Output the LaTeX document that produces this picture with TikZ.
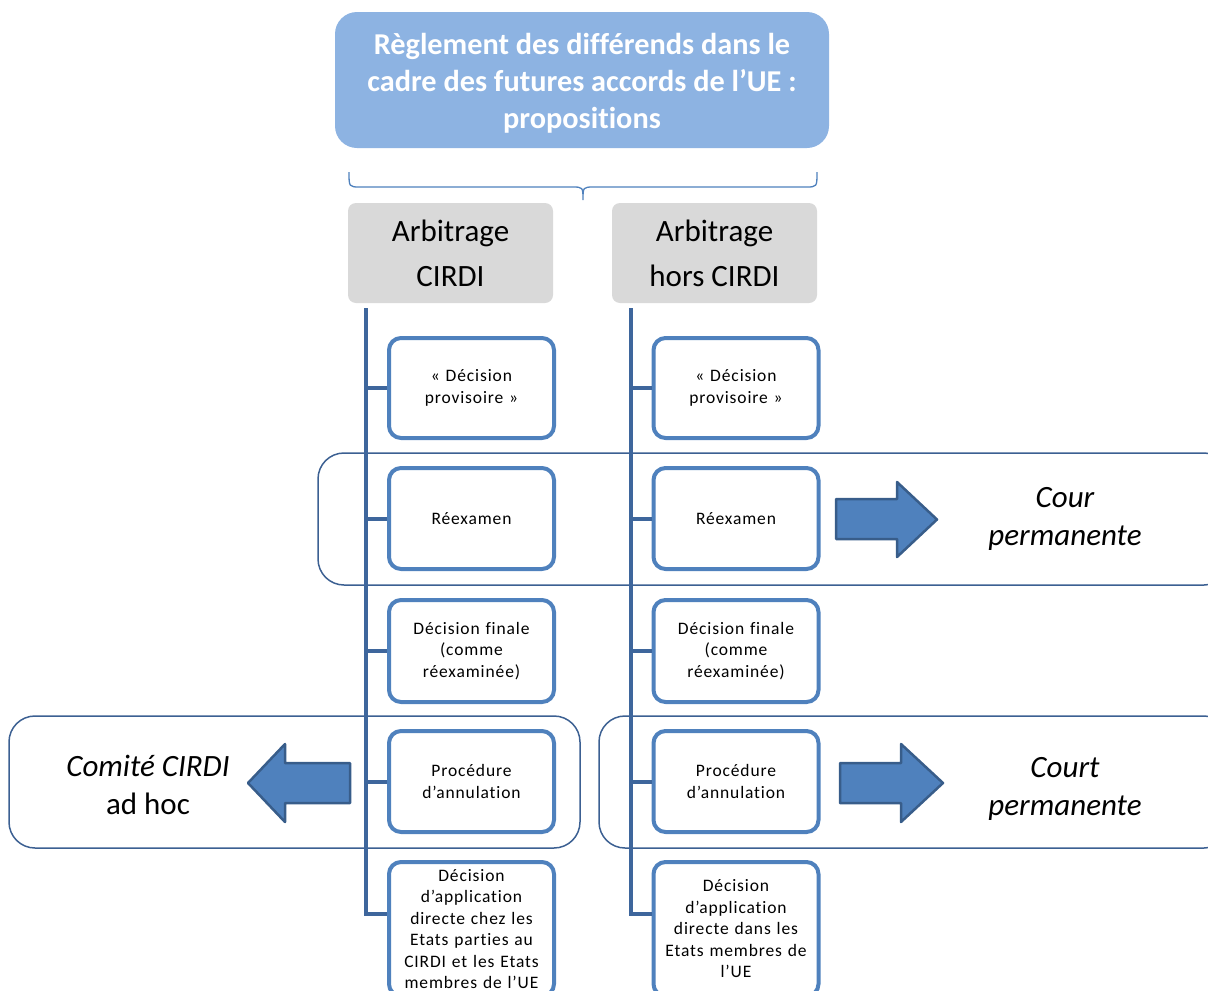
\documentclass[tikz,border=0pt]{standalone}
\usepackage{fontspec}
\setmainfont[Ligatures=NoCommon]{Carlito}
\newfontfamily\spacedfont[LetterSpace=5,Ligatures=NoCommon]{Carlito}
\usetikzlibrary{fit}
\definecolor{titleblue}{RGB}{141,179,226}
\definecolor{catgray}{RGB}{217,217,217}
\definecolor{itemblue}{RGB}{79,129,189}
\definecolor{lineblue}{RGB}{62,102,156}
\definecolor{groupblue}{RGB}{60,96,146}
\definecolor{arrowedge}{RGB}{56,93,138}
\begin{document}
\begin{tikzpicture}[x=1pt,y=-1pt,
  titlebox/.style={fill=titleblue, rounded corners=22pt, minimum width=494pt, minimum height=136pt,
    inner sep=0pt, text=white, align=center, font=\fontsize{30.3}{37}\selectfont\bfseries},
  catbox/.style={fill=catgray, rounded corners=8pt, minimum width=205pt, minimum height=100pt,
    inner sep=0pt, align=center, font=\fontsize{31}{45}\selectfont},
  itembox/.style={draw=itemblue, line width=4pt, fill=white, rounded corners=12pt,
    minimum width=165pt, inner sep=0pt, align=center, text width=158pt,
    font=\spacedfont\fontsize{17.5}{21.5}\selectfont},
  groupbox/.style={draw=groupblue, line width=1.5pt, rounded corners=26pt, inner sep=0pt},
  stem/.style={draw=lineblue, line width=4pt},
  bigarrow/.style={fill=itemblue, draw=arrowedge, line width=2.5pt, line join=round},
  sidetext/.style={align=center, font=\fontsize{31}{38}\selectfont},
  bracestyle/.style={draw=itemblue, line width=1.3pt}
]
\useasboundingbox (0,0) rectangle (1208,991);
\clip (0,0) rectangle (1208,991);

% group outlines
\node[groupbox, fit={(318,453) (1230,585)}] (g1) {};
\node[groupbox, fit={(9,716) (580,848)}] (g2) {};
\node[groupbox, fit={(599,716) (1230,848)}] (g3) {};

% title
\node[titlebox] (title) at (582,80) {\parbox{494pt}{\vspace{7pt}\centering Règlement des différends dans le\\cadre des futures accords de l’UE :\\propositions}};

% brace
\draw[bracestyle] (349,172) .. controls (349,187) .. (360,187) -- (572,187)
  .. controls (583,187) .. (583,200) .. controls (583,187) .. (594,187) -- (806,187)
  .. controls (817,187) .. (817,172);

% categories
\node[catbox] (catL) at (450.5,253) {Arbitrage\\CIRDI};
\node[catbox] (catR) at (714.5,253) {Arbitrage\\hors CIRDI};

% left column items
\node[itembox, minimum height=100pt] (b1) at (471.5,388) {« Décision\\provisoire »};
\node[itembox, minimum height=101pt] (b2) at (471.5,518.5) {Réexamen};
\node[itembox, minimum height=102pt] (b3) at (471.5,651) {Décision finale\\(comme\\réexaminée)};
\node[itembox, minimum height=101pt] (b4) at (471.5,781.5) {Procédure\\d’annulation};
\node[itembox, minimum height=134pt] (b5) at (471.5,929) {Décision\\d’application\\directe chez les\\Etats parties au\\CIRDI et les Etats\\membres de l’UE};

% right column items
\node[itembox, minimum height=100pt] (c1) at (736,388) {« Décision\\provisoire »};
\node[itembox, minimum height=101pt] (c2) at (736,518.5) {Réexamen};
\node[itembox, minimum height=102pt] (c3) at (736,651) {Décision finale\\(comme\\réexaminée)};
\node[itembox, minimum height=101pt] (c4) at (736,781.5) {Procédure\\d’annulation};
\node[itembox, minimum height=134pt] (c5) at (736,929) {Décision\\d’application\\directe dans les\\Etats membres de\\l’UE};

% stems
\coordinate (Ltop) at (366,308);
\coordinate (Lbot) at (366,914);
\coordinate (Rtop) at (631,308);
\coordinate (Rbot) at (631,914);
\draw[stem] (Ltop) -- (Lbot) -- (Lbot -| b5.west);
\draw[stem] (Rtop) -- (Rbot) -- (Rbot -| c5.west);
\foreach \n in {b1,b2,b3,b4}{\draw[stem] (\n.west -| Ltop) -- (\n.west);}
\foreach \n in {c1,c2,c3,c4}{\draw[stem] (\n.west -| Rtop) -- (\n.west);}

% arrows
\draw[bigarrow] (836,499) -- (897,499) -- (897,482) -- (937,519.5) -- (897,557) -- (897,539) -- (836,539) -- cycle;
\draw[bigarrow] (840,763) -- (901,763) -- (901,744) -- (943,783) -- (901,822) -- (901,803) -- (840,803) -- cycle;
\draw[bigarrow] (350,763) -- (285,763) -- (285,744) -- (248,783) -- (285,822) -- (285,803) -- (350,803) -- cycle;

% side texts
\node[sidetext] (cour) at (1065,519) {\itshape Cour\\\itshape permanente};
\node[sidetext] (court) at (1065,789) {\itshape Court\\\itshape permanente};
\node[sidetext] (comite) at (148,785) {\itshape Comité CIRDI\\ad hoc};
\end{tikzpicture}
\end{document}
